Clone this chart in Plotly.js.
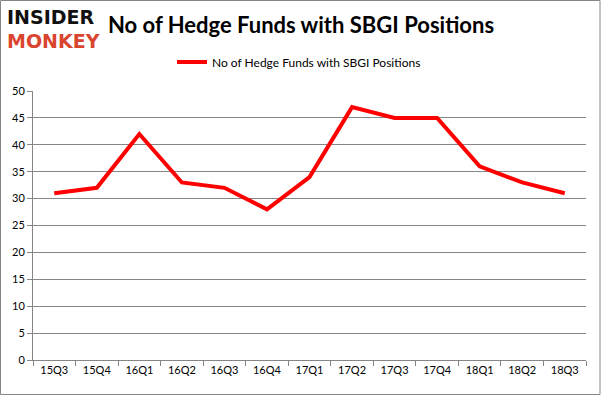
<!DOCTYPE html>
<html>
<head>
<meta charset="utf-8">
<script src="https://cdn.plot.ly/plotly-3.0.1.min.js"></script>
<style>
  html, body { margin: 0; padding: 0; background: #fff; }
  #chart { width: 601px; height: 396px; }
</style>
</head>
<body>
<div id="chart"></div>
<script>
// Data
const quarters = ["15Q3","15Q4","16Q1","16Q2","16Q3","16Q4","17Q1","17Q2","17Q3","17Q4","18Q1","18Q2","18Q3"];
const hedgeFunds = [31, 32, 42, 33, 32, 28, 34, 47, 45, 45, 36, 33, 31];
const seriesName = "No of Hedge Funds with SBGI Positions";
const yTicks = [0, 5, 10, 15, 20, 25, 30, 35, 40, 45, 50];

const W = 601, H = 396;
const margin = {l: 33, r: 15, t: 91, b: 36};
const pw = W - margin.l - margin.r, ph = H - margin.t - margin.b;
const px = v => (v - margin.l) / pw;
const py = v => (H - margin.b - v) / ph;

const font = "Lato, 'Open Sans', 'Liberation Sans', sans-serif";

const trace = {
  type: "scatter",
  mode: "lines",
  x: quarters,
  y: hedgeFunds,
  name: seriesName,
  line: {color: "#ff0000", width: 4},
  hoverinfo: "x+y"
};

const layout = {
  width: W, height: H,
  margin: margin,
  paper_bgcolor: "#ffffff",
  plot_bgcolor: "#ffffff",
  font: {family: font, size: 11, color: "#000"},
  showlegend: true,
  legend: {
    orientation: "h",
    x: px(299), xanchor: "center",
    y: py(62), yanchor: "middle",
    font: {family: font, size: 12, color: "#000"},
    bgcolor: "rgba(0,0,0,0)"
  },
  xaxis: {
    type: "category",
    range: [-0.5, quarters.length - 0.5],
    showgrid: false,
    showline: true, linecolor: "#868686", linewidth: 1,
    ticks: "outside", tickson: "boundaries", ticklen: 5, tickcolor: "#868686",
    tickfont: {family: font, size: 11, color: "#000"},
    zeroline: false,
    fixedrange: true
  },
  yaxis: {
    range: [0, 50],
    tickvals: yTicks,
    ticktext: yTicks.map(String),
    showgrid: true, gridcolor: "#868686", gridwidth: 1,
    showline: true, linecolor: "#868686", linewidth: 1,
    ticks: "outside", ticklen: 5, tickcolor: "#868686",
    tickfont: {family: font, size: 11, color: "#000"},
    zeroline: false,
    fixedrange: true
  },
  title: {
    text: "<b>No of Hedge Funds with SBGI Positions</b>",
    font: {family: font, size: 22, color: "#000"},
    x: px(301), xref: "paper", xanchor: "center",
    y: 1 - 25 / H, yref: "container", yanchor: "middle"
  },
  annotations: [
    {text: "<b>INSIDER</b>", xref: "paper", yref: "paper", x: px(5), y: py(17),
     xanchor: "left", yanchor: "middle", showarrow: false,
     font: {family: "'DejaVu Sans', sans-serif", size: 19, color: "#111"}},
    {text: "<b>MONKEY</b>", xref: "paper", yref: "paper", x: px(5), y: py(41),
     xanchor: "left", yanchor: "middle", showarrow: false,
     font: {family: "'DejaVu Sans', sans-serif", size: 19, color: "#d9452f"}}
  ],
  shapes: [
    {type: "rect", xref: "paper", yref: "paper",
     x0: px(0.5), x1: px(600), y0: py(394.5), y1: py(0.5),
     line: {color: "#868686", width: 1}, fillcolor: "rgba(0,0,0,0)", layer: "below"}
  ]
};

Plotly.newPlot("chart", [trace], layout, {displayModeBar: false, staticPlot: true});
</script>
</body>
</html>
